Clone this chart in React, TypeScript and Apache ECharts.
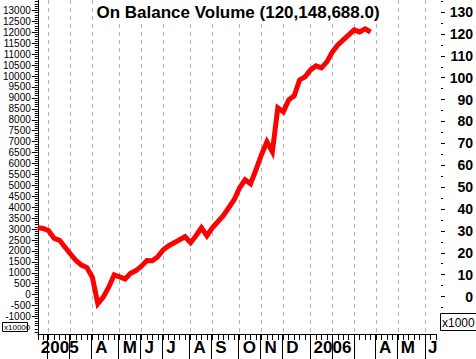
import React, { useEffect, useRef } from "react";
import * as echarts from "echarts";

// Weekly OBV values (units of 10,000 shares), week ending Fridays from 2005-01-21
const obvValues: number[] = [
  3062, 3025, 2925, 2570, 2486, 2166, 1860, 1563, 1353, 1238,
  800, -411, -114, 343, 900, 813, 718, 978, 1101, 1302,
  1558, 1554, 1737, 2057, 2240, 2377, 2514, 2651, 2377, 2697,
  3062, 2697, 3062, 3336, 3611, 3976, 4342, 4890, 5256, 5073,
  5713, 6400, 6993, 6536, 8547, 8364, 8912, 9095, 9826, 9963,
  10283, 10466, 10375, 10649, 11106, 11426, 11654, 11883, 12112, 12020,
  12157, 12015,
];

const WEEK_COUNT = 74;
const weekDates: string[] = [];
for (let i = 0; i < WEEK_COUNT; i++) {
  const d = new Date(Date.UTC(2005, 0, 21) + i * 7 * 86400000);
  weekDates.push(d.toISOString().slice(0, 10));
}

// Month start weeks (index into weekDates) and their labels ('' = label hidden)
const monthTickIndex: number[] = [2, 6, 10, 15, 19, 23, 28, 32, 37, 41, 45, 50, 54, 58, 62, 66, 71];
const monthTickLabel: string[] = ["", "", "A", "M", "J", "J", "A", "S", "O", "N", "D", "2006", "", "", "A", "M", "J"];
const firstYearLabel = "2005";

const leftTicks: number[] = [];
for (let v = -1000; v <= 13000; v += 500) leftTicks.push(v);
const leftMinorTicks: number[] = [];
for (let v = -1700; v <= 13400; v += 100) if (v % 500 !== 0) leftMinorTicks.push(v);
const rightTicks: number[] = [];
for (let v = -10; v <= 130; v += 10) rightTicks.push(v);
const rightMinorTicks: number[] = [];
for (let v = -15; v <= 135; v += 10) rightMinorTicks.push(v);

const titleText = "On Balance Volume (120,148,688.0)";
const FONT = '"Liberation Sans", Arial, sans-serif';

export default function App() {
  const ref = useRef<HTMLDivElement>(null);
  useEffect(() => {
    document.body.style.margin = "0";
    if (!ref.current) return;
    const chart = echarts.init(ref.current, undefined, { renderer: "svg" });
    const tickSet = new Set(monthTickIndex);
    const labelMap = new Map<number, string>();
    labelMap.set(0, firstYearLabel);
    monthTickIndex.forEach((idx, k) => {
      if (monthTickLabel[k]) labelMap.set(idx, monthTickLabel[k]);
    });
    chart.setOption({
      animation: false,
      backgroundColor: "#ffffff",
      grid: [
        { left: 36, right: 40, top: 0, bottom: 25, containLabel: false },
        { left: 36, right: 40, top: 334, bottom: 0, containLabel: false },
      ],
      xAxis: [
        {
          type: "category",
          gridIndex: 0,
          data: weekDates,
          boundaryGap: false,
          position: "bottom",
          axisLine: { show: true, onZero: false, lineStyle: { color: "#000", width: 1 } },
          axisTick: { show: true, interval: 0, length: 6, lineStyle: { color: "#000" } },
          axisLabel: { show: false },
          splitLine: { show: false },
        },
        {
          type: "category",
          gridIndex: 0,
          data: weekDates,
          boundaryGap: false,
          position: "bottom",
          axisLine: { show: false, onZero: false },
          axisTick: { show: false },
          axisLabel: {
            show: true,
            interval: (index: number) => labelMap.has(index),
            formatter: (_v: string, index: number) => labelMap.get(index) || "",
            align: "left",
            padding: [0, 0, 0, 3],
            margin: 5,
            color: "#000",
            fontSize: 17,
            fontWeight: "bold",
            fontFamily: FONT,
          },
          splitLine: {
            show: true,
            interval: (index: number) => tickSet.has(index),
            lineStyle: { color: "#b4b4b4", type: [4, 4], width: 1 },
          },
        },
        {
          type: "category",
          gridIndex: 1,
          data: weekDates,
          boundaryGap: false,
          axisLine: { show: false, onZero: false },
          axisTick: { show: false },
          axisLabel: { show: false },
          splitLine: {
            show: true,
            interval: (index: number) => tickSet.has(index),
            lineStyle: { color: "#000", type: "solid", width: 1 },
          },
        },
      ],
      yAxis: [
        {
          type: "value",
          gridIndex: 0,
          position: "left",
          min: -1800,
          max: 13480,
          axisLine: { show: true, lineStyle: { color: "#000", width: 1 } },
          axisTick: { show: true, length: 6, customValues: leftTicks, lineStyle: { color: "#000" } },
          axisLabel: {
            show: true,
            customValues: leftTicks,
            formatter: (v: number) => String(v),
            margin: 7,
            color: "#000",
            fontSize: 10,
            fontFamily: FONT,
          },
          splitLine: { show: false },
        },
        {
          type: "value",
          gridIndex: 0,
          position: "left",
          min: -1800,
          max: 13480,
          axisLine: { show: false },
          axisTick: { show: true, length: 3, customValues: leftMinorTicks, lineStyle: { color: "#000" } },
          axisLabel: { show: false },
          splitLine: { show: false },
        },
        {
          type: "value",
          gridIndex: 0,
          position: "right",
          offset: 5,
          min: -17.1,
          max: 135.5,
          axisLine: { show: false },
          axisTick: { show: true, length: 4, customValues: rightTicks, lineStyle: { color: "#000" } },
          axisLabel: {
            show: true,
            customValues: rightTicks,
            formatter: (v: number) => String(v),
            align: "right",
            margin: 32,
            color: "#000",
            fontSize: 14,
            fontWeight: "bold",
            fontFamily: FONT,
          },
          splitLine: { show: false },
        },
        {
          type: "value",
          gridIndex: 0,
          position: "right",
          offset: 5,
          min: -17.1,
          max: 135.5,
          axisLine: { show: false },
          axisTick: { show: true, length: 2, customValues: rightMinorTicks, lineStyle: { color: "#000" } },
          axisLabel: { show: false },
          splitLine: { show: false },
        },
        {
          type: "value",
          gridIndex: 1,
          min: 0,
          max: 1,
          show: false,
        },
      ],
      series: [
        {
          type: "line",
          xAxisIndex: 0,
          yAxisIndex: 0,
          data: obvValues,
          showSymbol: false,
          symbol: "none",
          lineStyle: { color: "#ff0000", width: 5, join: "miter" },
          z: 5,
        },
      ],
      graphic: [
        { type: "rect", z: 50, shape: { x: 93, y: 0, width: 292, height: 21 }, style: { fill: "#ffffff" } },
        {
          type: "text",
          z: 51,
          x: 238,
          y: 12,
          style: {
            text: titleText,
            font: 'bold 17px "Liberation Sans", Arial, sans-serif',
            fill: "#000",
            align: "center",
            verticalAlign: "middle",
            textAlign: "center",
            textVerticalAlign: "middle",
          },
        },
        {
          type: "rect",
          z: 50,
          shape: { x: 2.5, y: 322.5, width: 25, height: 9 },
          style: { fill: "#ffffff", stroke: "#000", lineWidth: 1 },
        },
        {
          type: "text",
          z: 51,
          x: 4,
          y: 327.5,
          style: {
            text: "x10000",
            font: '8px "Liberation Sans", Arial, sans-serif',
            fill: "#000",
            verticalAlign: "middle",
            textVerticalAlign: "middle",
          },
        },
        {
          type: "rect",
          z: 50,
          shape: { x: 440.5, y: 313.5, width: 40, height: 17 },
          style: { fill: "#ffffff", stroke: "#000", lineWidth: 1 },
        },
        {
          type: "text",
          z: 51,
          x: 442,
          y: 322.5,
          style: {
            text: "x1000",
            font: '12px "Liberation Sans", Arial, sans-serif',
            fill: "#000",
            verticalAlign: "middle",
            textVerticalAlign: "middle",
          },
        },
      ],
    });
    return () => chart.dispose();
  }, []);
  return <div ref={ref} style={{ width: 476, height: 359 }} />;
}
